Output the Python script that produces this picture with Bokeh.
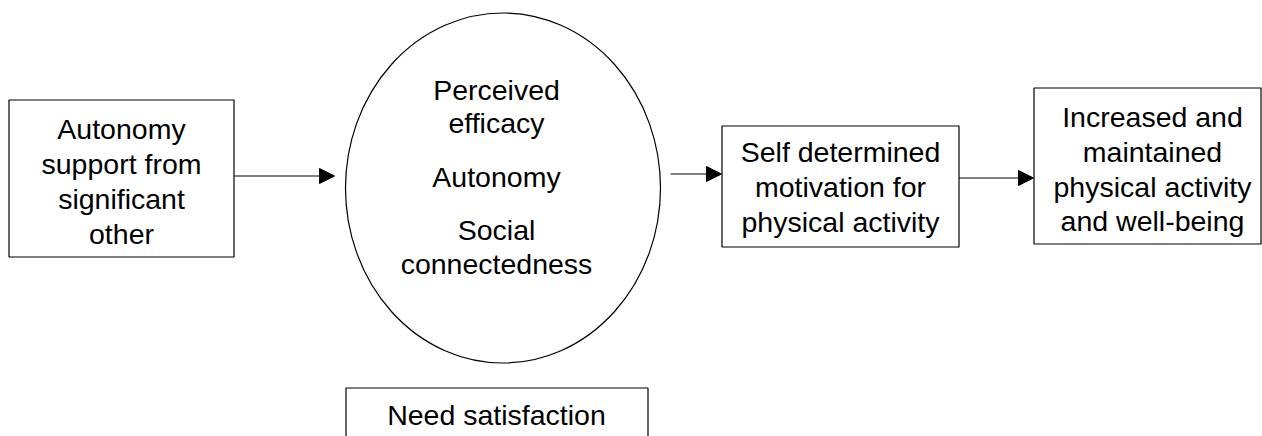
from bokeh.plotting import figure
from bokeh.models import Range1d, Arrow, NormalHead, ColumnDataSource
from bokeh.core.properties import value
from bokeh.embed import file_html
from bokeh.resources import INLINE

# ---- content ----
box1_lines = ["Autonomy", "support from", "significant", "other"]
ellipse_lines = ["Perceived", "efficacy", "Autonomy", "Social", "connectedness"]
need_lines = ["Need satisfaction"]
box3_lines = ["Self determined", "motivation for", "physical activity"]
box4_lines = ["Increased and", "maintained", "physical activity", "and well-being"]

# ---- layout (page pixel coordinates) ----
W, H = 1262, 436
FONT = "Liberation Sans"
FS = "28.5px"
DY = -9

# boxes: left, right, top, bottom
boxes_l = [8.5, 345.5, 721.5, 1033.5]
boxes_r = [233.5, 647.5, 958.5, 1260.5]
boxes_t = [99.5, 387.5, 125.5, 87.5]
boxes_b = [256.5, 470, 246.5, 243.5]

ell_x, ell_y, ell_w, ell_h = 502.5, 187.5, 315, 350

text_x = [121] * 4 + [496] * 5 + [496] + [840] * 3 + [1152] * 4
text_y = [137, 172, 207, 242,
          98, 131, 185, 238, 272,
          423,
          160, 195, 230,
          125, 160, 195, 229]
text_y = [v + DY for v in text_y]
texts = box1_lines + ellipse_lines + need_lines + box3_lines + box4_lines

arrows = [(233.5, 334, 175.5), (670, 721, 173.5), (958.5, 1033, 177.5)]

p = figure(width=W, height=H, output_backend="svg", toolbar_location=None,
           x_range=Range1d(0, W), y_range=Range1d(H, 0),
           min_border=0, background_fill_color="white", border_fill_color="white")
p.axis.visible = False
p.grid.visible = False
p.outline_line_color = None

p.quad(left=boxes_l, right=boxes_r, top=boxes_t, bottom=boxes_b,
       fill_color="white", line_color="black", line_width=1.2)
p.ellipse(x=[ell_x], y=[ell_y], width=[ell_w], height=[ell_h],
          fill_color="white", line_color="black", line_width=1.2)

src = ColumnDataSource(dict(x=text_x, y=text_y, t=texts))
p.text(x="x", y="y", text="t", source=src, text_align="center",
       text_baseline="alphabetic", text_font=value(FONT), text_font_size=FS,
       text_color="black")

for x0, x1, y in arrows:
    p.add_layout(Arrow(x_start=x0, x_end=x1, y_start=y, y_end=y,
                       line_color="black", line_width=1.2,
                       end=NormalHead(size=15, fill_color="black", line_color="black")))

open("out.html", "w").write(file_html(p, INLINE))
